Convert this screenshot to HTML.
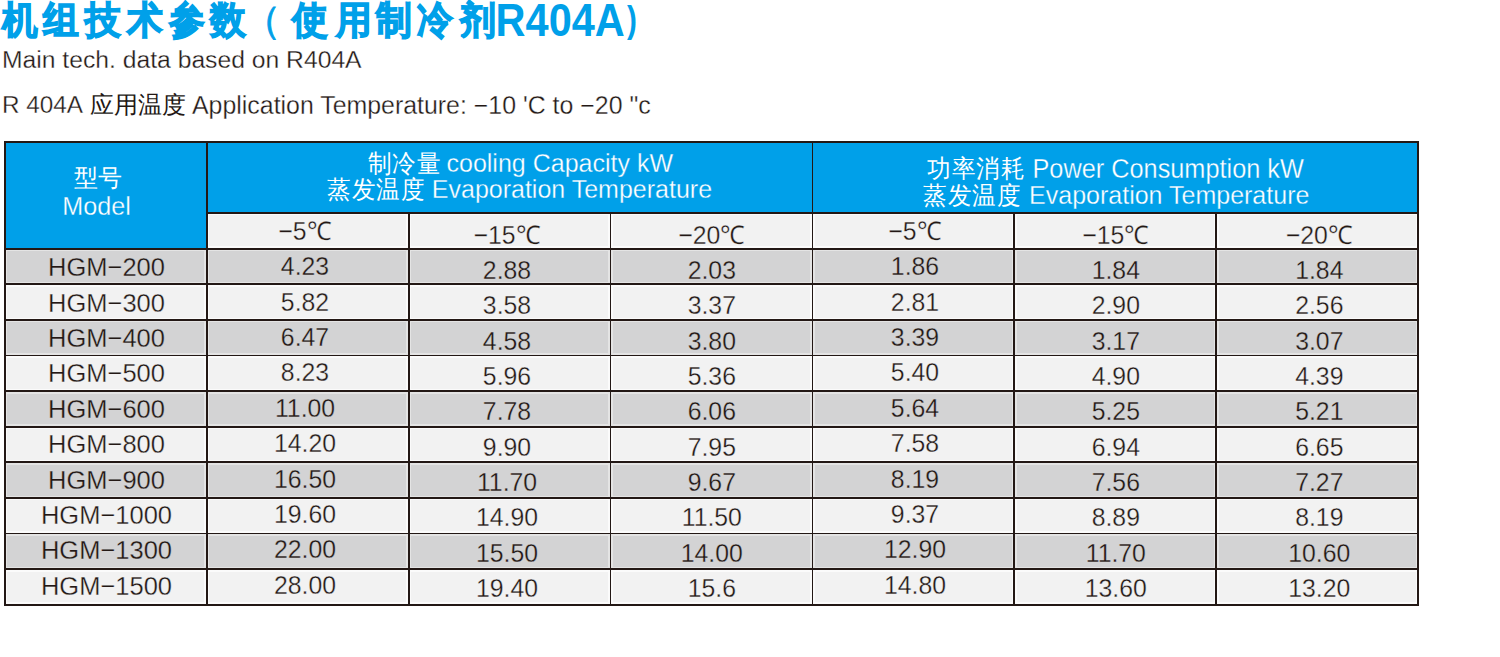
<!DOCTYPE html><html><head><meta charset="utf-8"><style>
html,body{margin:0;padding:0;background:#fff;width:1500px;height:657px;overflow:hidden;position:relative}
*{box-sizing:border-box}
.a{position:absolute}
.t{position:absolute;font-family:"Liberation Sans",sans-serif;color:#231815;white-space:nowrap;line-height:1}
.c{text-align:center}
.w{color:#fff}
</style></head><body>

<div class="a" style="left:5.00px;top:142.00px;width:1413.02px;height:71.00px;background:#00a0e9"></div>
<div class="a" style="left:5.00px;top:142.00px;width:201.86px;height:106.80px;background:#00a0e9"></div>
<div class="a" style="left:207.76px;top:213.90px;width:200.06px;height:34.00px;background:#fbfbfb"></div>
<div class="a" style="left:209.26px;top:215.40px;width:197.06px;height:31.00px;background:#f2f2f2"></div>
<div class="a" style="left:409.62px;top:213.90px;width:200.06px;height:34.00px;background:#fbfbfb"></div>
<div class="a" style="left:411.12px;top:215.40px;width:197.06px;height:31.00px;background:#f2f2f2"></div>
<div class="a" style="left:611.48px;top:213.90px;width:200.06px;height:34.00px;background:#fbfbfb"></div>
<div class="a" style="left:612.98px;top:215.40px;width:197.06px;height:31.00px;background:#f2f2f2"></div>
<div class="a" style="left:813.34px;top:213.90px;width:200.06px;height:34.00px;background:#fbfbfb"></div>
<div class="a" style="left:814.84px;top:215.40px;width:197.06px;height:31.00px;background:#f2f2f2"></div>
<div class="a" style="left:1015.20px;top:213.90px;width:200.06px;height:34.00px;background:#fbfbfb"></div>
<div class="a" style="left:1016.70px;top:215.40px;width:197.06px;height:31.00px;background:#f2f2f2"></div>
<div class="a" style="left:1217.06px;top:213.90px;width:200.06px;height:34.00px;background:#fbfbfb"></div>
<div class="a" style="left:1218.56px;top:215.40px;width:197.06px;height:31.00px;background:#f2f2f2"></div>
<div class="a" style="left:5.90px;top:249.70px;width:1411.22px;height:33.79px;background:#e4e4e4"></div>
<div class="a" style="left:7.40px;top:251.20px;width:197.06px;height:30.79px;background:#d3d3d4"></div>
<div class="a" style="left:209.26px;top:251.20px;width:197.06px;height:30.79px;background:#d3d3d4"></div>
<div class="a" style="left:411.12px;top:251.20px;width:197.06px;height:30.79px;background:#d3d3d4"></div>
<div class="a" style="left:612.98px;top:251.20px;width:197.06px;height:30.79px;background:#d3d3d4"></div>
<div class="a" style="left:814.84px;top:251.20px;width:197.06px;height:30.79px;background:#d3d3d4"></div>
<div class="a" style="left:1016.70px;top:251.20px;width:197.06px;height:30.79px;background:#d3d3d4"></div>
<div class="a" style="left:1218.56px;top:251.20px;width:197.06px;height:30.79px;background:#d3d3d4"></div>
<div class="a" style="left:5.90px;top:285.29px;width:1411.22px;height:33.79px;background:#fbfbfb"></div>
<div class="a" style="left:7.40px;top:286.79px;width:197.06px;height:30.79px;background:#f2f2f2"></div>
<div class="a" style="left:209.26px;top:286.79px;width:197.06px;height:30.79px;background:#f2f2f2"></div>
<div class="a" style="left:411.12px;top:286.79px;width:197.06px;height:30.79px;background:#f2f2f2"></div>
<div class="a" style="left:612.98px;top:286.79px;width:197.06px;height:30.79px;background:#f2f2f2"></div>
<div class="a" style="left:814.84px;top:286.79px;width:197.06px;height:30.79px;background:#f2f2f2"></div>
<div class="a" style="left:1016.70px;top:286.79px;width:197.06px;height:30.79px;background:#f2f2f2"></div>
<div class="a" style="left:1218.56px;top:286.79px;width:197.06px;height:30.79px;background:#f2f2f2"></div>
<div class="a" style="left:5.90px;top:320.88px;width:1411.22px;height:33.79px;background:#e4e4e4"></div>
<div class="a" style="left:7.40px;top:322.38px;width:197.06px;height:30.79px;background:#d3d3d4"></div>
<div class="a" style="left:209.26px;top:322.38px;width:197.06px;height:30.79px;background:#d3d3d4"></div>
<div class="a" style="left:411.12px;top:322.38px;width:197.06px;height:30.79px;background:#d3d3d4"></div>
<div class="a" style="left:612.98px;top:322.38px;width:197.06px;height:30.79px;background:#d3d3d4"></div>
<div class="a" style="left:814.84px;top:322.38px;width:197.06px;height:30.79px;background:#d3d3d4"></div>
<div class="a" style="left:1016.70px;top:322.38px;width:197.06px;height:30.79px;background:#d3d3d4"></div>
<div class="a" style="left:1218.56px;top:322.38px;width:197.06px;height:30.79px;background:#d3d3d4"></div>
<div class="a" style="left:5.90px;top:356.47px;width:1411.22px;height:33.79px;background:#fbfbfb"></div>
<div class="a" style="left:7.40px;top:357.97px;width:197.06px;height:30.79px;background:#f2f2f2"></div>
<div class="a" style="left:209.26px;top:357.97px;width:197.06px;height:30.79px;background:#f2f2f2"></div>
<div class="a" style="left:411.12px;top:357.97px;width:197.06px;height:30.79px;background:#f2f2f2"></div>
<div class="a" style="left:612.98px;top:357.97px;width:197.06px;height:30.79px;background:#f2f2f2"></div>
<div class="a" style="left:814.84px;top:357.97px;width:197.06px;height:30.79px;background:#f2f2f2"></div>
<div class="a" style="left:1016.70px;top:357.97px;width:197.06px;height:30.79px;background:#f2f2f2"></div>
<div class="a" style="left:1218.56px;top:357.97px;width:197.06px;height:30.79px;background:#f2f2f2"></div>
<div class="a" style="left:5.90px;top:392.06px;width:1411.22px;height:33.79px;background:#e4e4e4"></div>
<div class="a" style="left:7.40px;top:393.56px;width:197.06px;height:30.79px;background:#d3d3d4"></div>
<div class="a" style="left:209.26px;top:393.56px;width:197.06px;height:30.79px;background:#d3d3d4"></div>
<div class="a" style="left:411.12px;top:393.56px;width:197.06px;height:30.79px;background:#d3d3d4"></div>
<div class="a" style="left:612.98px;top:393.56px;width:197.06px;height:30.79px;background:#d3d3d4"></div>
<div class="a" style="left:814.84px;top:393.56px;width:197.06px;height:30.79px;background:#d3d3d4"></div>
<div class="a" style="left:1016.70px;top:393.56px;width:197.06px;height:30.79px;background:#d3d3d4"></div>
<div class="a" style="left:1218.56px;top:393.56px;width:197.06px;height:30.79px;background:#d3d3d4"></div>
<div class="a" style="left:5.90px;top:427.65px;width:1411.22px;height:33.79px;background:#fbfbfb"></div>
<div class="a" style="left:7.40px;top:429.15px;width:197.06px;height:30.79px;background:#f2f2f2"></div>
<div class="a" style="left:209.26px;top:429.15px;width:197.06px;height:30.79px;background:#f2f2f2"></div>
<div class="a" style="left:411.12px;top:429.15px;width:197.06px;height:30.79px;background:#f2f2f2"></div>
<div class="a" style="left:612.98px;top:429.15px;width:197.06px;height:30.79px;background:#f2f2f2"></div>
<div class="a" style="left:814.84px;top:429.15px;width:197.06px;height:30.79px;background:#f2f2f2"></div>
<div class="a" style="left:1016.70px;top:429.15px;width:197.06px;height:30.79px;background:#f2f2f2"></div>
<div class="a" style="left:1218.56px;top:429.15px;width:197.06px;height:30.79px;background:#f2f2f2"></div>
<div class="a" style="left:5.90px;top:463.24px;width:1411.22px;height:33.79px;background:#e4e4e4"></div>
<div class="a" style="left:7.40px;top:464.74px;width:197.06px;height:30.79px;background:#d3d3d4"></div>
<div class="a" style="left:209.26px;top:464.74px;width:197.06px;height:30.79px;background:#d3d3d4"></div>
<div class="a" style="left:411.12px;top:464.74px;width:197.06px;height:30.79px;background:#d3d3d4"></div>
<div class="a" style="left:612.98px;top:464.74px;width:197.06px;height:30.79px;background:#d3d3d4"></div>
<div class="a" style="left:814.84px;top:464.74px;width:197.06px;height:30.79px;background:#d3d3d4"></div>
<div class="a" style="left:1016.70px;top:464.74px;width:197.06px;height:30.79px;background:#d3d3d4"></div>
<div class="a" style="left:1218.56px;top:464.74px;width:197.06px;height:30.79px;background:#d3d3d4"></div>
<div class="a" style="left:5.90px;top:498.83px;width:1411.22px;height:33.79px;background:#fbfbfb"></div>
<div class="a" style="left:7.40px;top:500.33px;width:197.06px;height:30.79px;background:#f2f2f2"></div>
<div class="a" style="left:209.26px;top:500.33px;width:197.06px;height:30.79px;background:#f2f2f2"></div>
<div class="a" style="left:411.12px;top:500.33px;width:197.06px;height:30.79px;background:#f2f2f2"></div>
<div class="a" style="left:612.98px;top:500.33px;width:197.06px;height:30.79px;background:#f2f2f2"></div>
<div class="a" style="left:814.84px;top:500.33px;width:197.06px;height:30.79px;background:#f2f2f2"></div>
<div class="a" style="left:1016.70px;top:500.33px;width:197.06px;height:30.79px;background:#f2f2f2"></div>
<div class="a" style="left:1218.56px;top:500.33px;width:197.06px;height:30.79px;background:#f2f2f2"></div>
<div class="a" style="left:5.90px;top:534.42px;width:1411.22px;height:33.79px;background:#e4e4e4"></div>
<div class="a" style="left:7.40px;top:535.92px;width:197.06px;height:30.79px;background:#d3d3d4"></div>
<div class="a" style="left:209.26px;top:535.92px;width:197.06px;height:30.79px;background:#d3d3d4"></div>
<div class="a" style="left:411.12px;top:535.92px;width:197.06px;height:30.79px;background:#d3d3d4"></div>
<div class="a" style="left:612.98px;top:535.92px;width:197.06px;height:30.79px;background:#d3d3d4"></div>
<div class="a" style="left:814.84px;top:535.92px;width:197.06px;height:30.79px;background:#d3d3d4"></div>
<div class="a" style="left:1016.70px;top:535.92px;width:197.06px;height:30.79px;background:#d3d3d4"></div>
<div class="a" style="left:1218.56px;top:535.92px;width:197.06px;height:30.79px;background:#d3d3d4"></div>
<div class="a" style="left:5.90px;top:570.01px;width:1411.22px;height:33.79px;background:#fbfbfb"></div>
<div class="a" style="left:7.40px;top:571.51px;width:197.06px;height:30.79px;background:#f2f2f2"></div>
<div class="a" style="left:209.26px;top:571.51px;width:197.06px;height:30.79px;background:#f2f2f2"></div>
<div class="a" style="left:411.12px;top:571.51px;width:197.06px;height:30.79px;background:#f2f2f2"></div>
<div class="a" style="left:612.98px;top:571.51px;width:197.06px;height:30.79px;background:#f2f2f2"></div>
<div class="a" style="left:814.84px;top:571.51px;width:197.06px;height:30.79px;background:#f2f2f2"></div>
<div class="a" style="left:1016.70px;top:571.51px;width:197.06px;height:30.79px;background:#f2f2f2"></div>
<div class="a" style="left:1218.56px;top:571.51px;width:197.06px;height:30.79px;background:#f2f2f2"></div>
<div class="a" style="left:4.10px;top:141.10px;width:1414.82px;height:1.80px;background:#231815"></div>
<div class="a" style="left:205.96px;top:212.10px;width:1212.96px;height:1.80px;background:#231815"></div>
<div class="a" style="left:4.10px;top:247.90px;width:1414.82px;height:1.80px;background:#231815"></div>
<div class="a" style="left:4.10px;top:283.49px;width:1414.82px;height:1.80px;background:#231815"></div>
<div class="a" style="left:4.10px;top:319.08px;width:1414.82px;height:1.80px;background:#231815"></div>
<div class="a" style="left:4.10px;top:354.67px;width:1414.82px;height:1.80px;background:#231815"></div>
<div class="a" style="left:4.10px;top:390.26px;width:1414.82px;height:1.80px;background:#231815"></div>
<div class="a" style="left:4.10px;top:425.85px;width:1414.82px;height:1.80px;background:#231815"></div>
<div class="a" style="left:4.10px;top:461.44px;width:1414.82px;height:1.80px;background:#231815"></div>
<div class="a" style="left:4.10px;top:497.03px;width:1414.82px;height:1.80px;background:#231815"></div>
<div class="a" style="left:4.10px;top:532.62px;width:1414.82px;height:1.80px;background:#231815"></div>
<div class="a" style="left:4.10px;top:568.21px;width:1414.82px;height:1.80px;background:#231815"></div>
<div class="a" style="left:4.10px;top:603.80px;width:1414.82px;height:1.80px;background:#231815"></div>
<div class="a" style="left:4.10px;top:141.10px;width:1.80px;height:464.50px;background:#231815"></div>
<div class="a" style="left:205.96px;top:141.10px;width:1.80px;height:464.50px;background:#231815"></div>
<div class="a" style="left:811.54px;top:141.10px;width:1.80px;height:464.50px;background:#231815"></div>
<div class="a" style="left:1417.12px;top:141.10px;width:1.80px;height:464.50px;background:#231815"></div>
<div class="a" style="left:407.82px;top:212.10px;width:1.80px;height:393.50px;background:#231815"></div>
<div class="a" style="left:609.68px;top:212.10px;width:1.80px;height:393.50px;background:#231815"></div>
<div class="a" style="left:1013.40px;top:212.10px;width:1.80px;height:393.50px;background:#231815"></div>
<div class="a" style="left:1215.26px;top:212.10px;width:1.80px;height:393.50px;background:#231815"></div>
<div class="t" style="left:2.0px;top:0.8px;font-size:38.0px;font-weight:bold;color:#00a0e9;-webkit-text-stroke:1.40px #00a0e9;transform:scaleX(0.940);transform-origin:0 0">机</div>
<div class="t" style="left:43.4px;top:0.8px;font-size:38.0px;font-weight:bold;color:#00a0e9;-webkit-text-stroke:1.40px #00a0e9;transform:scaleX(0.940);transform-origin:0 0">组</div>
<div class="t" style="left:84.7px;top:0.8px;font-size:38.0px;font-weight:bold;color:#00a0e9;-webkit-text-stroke:1.40px #00a0e9;transform:scaleX(0.940);transform-origin:0 0">技</div>
<div class="t" style="left:127.4px;top:0.8px;font-size:38.0px;font-weight:bold;color:#00a0e9;-webkit-text-stroke:1.40px #00a0e9;transform:scaleX(0.940);transform-origin:0 0">术</div>
<div class="t" style="left:168.7px;top:0.8px;font-size:38.0px;font-weight:bold;color:#00a0e9;-webkit-text-stroke:1.40px #00a0e9;transform:scaleX(0.940);transform-origin:0 0">参</div>
<div class="t" style="left:209.7px;top:0.8px;font-size:38.0px;font-weight:bold;color:#00a0e9;-webkit-text-stroke:1.40px #00a0e9;transform:scaleX(0.940);transform-origin:0 0">数</div>
<div class="t" style="left:292.4px;top:0.8px;font-size:38.0px;font-weight:bold;color:#00a0e9;-webkit-text-stroke:1.40px #00a0e9;transform:scaleX(0.940);transform-origin:0 0">使</div>
<div class="t" style="left:335.7px;top:0.8px;font-size:38.0px;font-weight:bold;color:#00a0e9;-webkit-text-stroke:1.40px #00a0e9;transform:scaleX(0.940);transform-origin:0 0">用</div>
<div class="t" style="left:375.7px;top:0.8px;font-size:38.0px;font-weight:bold;color:#00a0e9;-webkit-text-stroke:1.40px #00a0e9;transform:scaleX(0.940);transform-origin:0 0">制</div>
<div class="t" style="left:417.4px;top:0.8px;font-size:38.0px;font-weight:bold;color:#00a0e9;-webkit-text-stroke:1.40px #00a0e9;transform:scaleX(0.940);transform-origin:0 0">冷</div>
<div class="t" style="left:459.7px;top:0.8px;font-size:38.0px;font-weight:bold;color:#00a0e9;-webkit-text-stroke:1.40px #00a0e9;transform:scaleX(0.940);transform-origin:0 0">剂</div>
<div class="t" style="left:243.2px;top:0.8px;font-size:38.0px;color:#00a0e9;-webkit-text-stroke:0.8px #00a0e9">（</div>
<div class="t" style="left:495.6px;top:0.5px;font-size:41.5px;font-weight:bold;color:#00a0e9;transform:scaleY(1.13);transform-origin:0 85%">R404A</div>
<div class="t" style="left:627.0px;top:1.0px;font-size:37.0px;font-weight:bold;color:#00a0e9;transform:scaleX(0.8);transform-origin:0 0">)</div>
<div class="t" style="left:2.0px;top:47.7px;font-size:24.7px;-webkit-text-stroke:0.3px #fff">Main tech. data based on R404A</div>
<div class="t" style="left:2.0px;top:92.8px;font-size:24.3px;-webkit-text-stroke:0.3px #fff">R 404A</div>
<div class="t" style="left:89.7px;top:93.8px;font-size:23.5px;">应用温度</div>
<div class="t" style="left:192.0px;top:92.8px;font-size:24.9px;-webkit-text-stroke:0.3px #fff">Application Temperature: −10 'C to −20 "c</div>
<div class="t w" style="left:74.40px;top:167.00px;font-size:23.5px;transform:scaleY(1.0);transform-origin:0 0">型号</div>
<div class="t w" style="left:62.20px;top:192.51px;font-size:25.2px;transform:scaleY(1.060);transform-origin:0 0;-webkit-text-stroke:0.3px #00a0e9">Model</div>
<div class="t w" style="left:367.70px;top:150.74px;font-size:24.00px;transform:scaleY(1.060);transform-origin:0 0;letter-spacing:0.70px">制冷量</div>
<div class="t w" style="left:446.50px;top:150.24px;font-size:25.00px;transform:scaleY(1.060);transform-origin:0 0;-webkit-text-stroke:0.30px #00a0e9">cooling Capacity kW</div>
<div class="t w" style="left:327.00px;top:176.74px;font-size:24.00px;transform:scaleY(1.060);transform-origin:0 0;letter-spacing:0.70px">蒸发温度</div>
<div class="t w" style="left:431.80px;top:176.24px;font-size:25.00px;transform:scaleY(1.060);transform-origin:0 0;-webkit-text-stroke:0.30px #00a0e9">Evaporation Temperature</div>
<div class="t w" style="left:927.00px;top:156.35px;font-size:24.00px;transform:scaleY(1.060);transform-origin:0 0;letter-spacing:0.70px">功率消耗</div>
<div class="t w" style="left:1032.50px;top:155.70px;font-size:25.30px;transform:scaleY(1.060);transform-origin:0 0;-webkit-text-stroke:0.30px #00a0e9">Power Consumption kW</div>
<div class="t w" style="left:923.00px;top:182.74px;font-size:24.00px;transform:scaleY(1.060);transform-origin:0 0;letter-spacing:0.70px">蒸发温度</div>
<div class="t w" style="left:1029.10px;top:182.24px;font-size:25.00px;transform:scaleY(1.060);transform-origin:0 0;-webkit-text-stroke:0.30px #00a0e9">Evaporation Temperature</div>
<div class="t c" style="left:155.00px;top:218.87px;width:300px;font-size:24.80px;transform:scaleY(1.040);transform-origin:50% 0;-webkit-text-stroke:0.30px #f2f2f2">−5℃</div>
<div class="t c" style="left:357.00px;top:222.84px;width:300px;font-size:24.80px;transform:scaleY(1.040);transform-origin:50% 0;-webkit-text-stroke:0.30px #f2f2f2">−15℃</div>
<div class="t c" style="left:561.80px;top:222.84px;width:300px;font-size:24.80px;transform:scaleY(1.040);transform-origin:50% 0;-webkit-text-stroke:0.30px #f2f2f2">−20℃</div>
<div class="t c" style="left:765.00px;top:218.87px;width:300px;font-size:24.80px;transform:scaleY(1.040);transform-origin:50% 0;-webkit-text-stroke:0.30px #f2f2f2">−5℃</div>
<div class="t c" style="left:965.80px;top:222.84px;width:300px;font-size:24.80px;transform:scaleY(1.040);transform-origin:50% 0;-webkit-text-stroke:0.30px #f2f2f2">−15℃</div>
<div class="t c" style="left:1169.30px;top:222.84px;width:300px;font-size:24.80px;transform:scaleY(1.040);transform-origin:50% 0;-webkit-text-stroke:0.30px #f2f2f2">−20℃</div>
<div class="t c" style="left:-43.50px;top:254.17px;width:300px;font-size:25.50px;transform:scaleY(1.040);transform-origin:50% 0;-webkit-text-stroke:0.30px #d3d3d4">HGM−200</div>
<div class="t c" style="left:155.00px;top:254.26px;width:300px;font-size:24.80px;transform:scaleY(1.040);transform-origin:50% 0;-webkit-text-stroke:0.30px #d3d3d4">4.23</div>
<div class="t c" style="left:357.00px;top:258.16px;width:300px;font-size:24.80px;transform:scaleY(1.040);transform-origin:50% 0;-webkit-text-stroke:0.30px #d3d3d4">2.88</div>
<div class="t c" style="left:561.80px;top:258.16px;width:300px;font-size:24.80px;transform:scaleY(1.040);transform-origin:50% 0;-webkit-text-stroke:0.30px #d3d3d4">2.03</div>
<div class="t c" style="left:765.00px;top:254.26px;width:300px;font-size:24.80px;transform:scaleY(1.040);transform-origin:50% 0;-webkit-text-stroke:0.30px #d3d3d4">1.86</div>
<div class="t c" style="left:965.80px;top:258.16px;width:300px;font-size:24.80px;transform:scaleY(1.040);transform-origin:50% 0;-webkit-text-stroke:0.30px #d3d3d4">1.84</div>
<div class="t c" style="left:1169.30px;top:258.16px;width:300px;font-size:24.80px;transform:scaleY(1.040);transform-origin:50% 0;-webkit-text-stroke:0.30px #d3d3d4">1.84</div>
<div class="t c" style="left:-43.50px;top:289.56px;width:300px;font-size:25.50px;transform:scaleY(1.040);transform-origin:50% 0;-webkit-text-stroke:0.30px #f2f2f2">HGM−300</div>
<div class="t c" style="left:155.00px;top:289.65px;width:300px;font-size:24.80px;transform:scaleY(1.040);transform-origin:50% 0;-webkit-text-stroke:0.30px #f2f2f2">5.82</div>
<div class="t c" style="left:357.00px;top:293.48px;width:300px;font-size:24.80px;transform:scaleY(1.040);transform-origin:50% 0;-webkit-text-stroke:0.30px #f2f2f2">3.58</div>
<div class="t c" style="left:561.80px;top:293.48px;width:300px;font-size:24.80px;transform:scaleY(1.040);transform-origin:50% 0;-webkit-text-stroke:0.30px #f2f2f2">3.37</div>
<div class="t c" style="left:765.00px;top:289.65px;width:300px;font-size:24.80px;transform:scaleY(1.040);transform-origin:50% 0;-webkit-text-stroke:0.30px #f2f2f2">2.81</div>
<div class="t c" style="left:965.80px;top:293.48px;width:300px;font-size:24.80px;transform:scaleY(1.040);transform-origin:50% 0;-webkit-text-stroke:0.30px #f2f2f2">2.90</div>
<div class="t c" style="left:1169.30px;top:293.48px;width:300px;font-size:24.80px;transform:scaleY(1.040);transform-origin:50% 0;-webkit-text-stroke:0.30px #f2f2f2">2.56</div>
<div class="t c" style="left:-43.50px;top:324.95px;width:300px;font-size:25.50px;transform:scaleY(1.040);transform-origin:50% 0;-webkit-text-stroke:0.30px #d3d3d4">HGM−400</div>
<div class="t c" style="left:155.00px;top:325.04px;width:300px;font-size:24.80px;transform:scaleY(1.040);transform-origin:50% 0;-webkit-text-stroke:0.30px #d3d3d4">6.47</div>
<div class="t c" style="left:357.00px;top:328.80px;width:300px;font-size:24.80px;transform:scaleY(1.040);transform-origin:50% 0;-webkit-text-stroke:0.30px #d3d3d4">4.58</div>
<div class="t c" style="left:561.80px;top:328.80px;width:300px;font-size:24.80px;transform:scaleY(1.040);transform-origin:50% 0;-webkit-text-stroke:0.30px #d3d3d4">3.80</div>
<div class="t c" style="left:765.00px;top:325.04px;width:300px;font-size:24.80px;transform:scaleY(1.040);transform-origin:50% 0;-webkit-text-stroke:0.30px #d3d3d4">3.39</div>
<div class="t c" style="left:965.80px;top:328.80px;width:300px;font-size:24.80px;transform:scaleY(1.040);transform-origin:50% 0;-webkit-text-stroke:0.30px #d3d3d4">3.17</div>
<div class="t c" style="left:1169.30px;top:328.80px;width:300px;font-size:24.80px;transform:scaleY(1.040);transform-origin:50% 0;-webkit-text-stroke:0.30px #d3d3d4">3.07</div>
<div class="t c" style="left:-43.50px;top:360.34px;width:300px;font-size:25.50px;transform:scaleY(1.040);transform-origin:50% 0;-webkit-text-stroke:0.30px #f2f2f2">HGM−500</div>
<div class="t c" style="left:155.00px;top:360.43px;width:300px;font-size:24.80px;transform:scaleY(1.040);transform-origin:50% 0;-webkit-text-stroke:0.30px #f2f2f2">8.23</div>
<div class="t c" style="left:357.00px;top:364.12px;width:300px;font-size:24.80px;transform:scaleY(1.040);transform-origin:50% 0;-webkit-text-stroke:0.30px #f2f2f2">5.96</div>
<div class="t c" style="left:561.80px;top:364.12px;width:300px;font-size:24.80px;transform:scaleY(1.040);transform-origin:50% 0;-webkit-text-stroke:0.30px #f2f2f2">5.36</div>
<div class="t c" style="left:765.00px;top:360.43px;width:300px;font-size:24.80px;transform:scaleY(1.040);transform-origin:50% 0;-webkit-text-stroke:0.30px #f2f2f2">5.40</div>
<div class="t c" style="left:965.80px;top:364.12px;width:300px;font-size:24.80px;transform:scaleY(1.040);transform-origin:50% 0;-webkit-text-stroke:0.30px #f2f2f2">4.90</div>
<div class="t c" style="left:1169.30px;top:364.12px;width:300px;font-size:24.80px;transform:scaleY(1.040);transform-origin:50% 0;-webkit-text-stroke:0.30px #f2f2f2">4.39</div>
<div class="t c" style="left:-43.50px;top:395.73px;width:300px;font-size:25.50px;transform:scaleY(1.040);transform-origin:50% 0;-webkit-text-stroke:0.30px #d3d3d4">HGM−600</div>
<div class="t c" style="left:155.00px;top:395.82px;width:300px;font-size:24.80px;transform:scaleY(1.040);transform-origin:50% 0;-webkit-text-stroke:0.30px #d3d3d4">11.00</div>
<div class="t c" style="left:357.00px;top:399.44px;width:300px;font-size:24.80px;transform:scaleY(1.040);transform-origin:50% 0;-webkit-text-stroke:0.30px #d3d3d4">7.78</div>
<div class="t c" style="left:561.80px;top:399.44px;width:300px;font-size:24.80px;transform:scaleY(1.040);transform-origin:50% 0;-webkit-text-stroke:0.30px #d3d3d4">6.06</div>
<div class="t c" style="left:765.00px;top:395.82px;width:300px;font-size:24.80px;transform:scaleY(1.040);transform-origin:50% 0;-webkit-text-stroke:0.30px #d3d3d4">5.64</div>
<div class="t c" style="left:965.80px;top:399.44px;width:300px;font-size:24.80px;transform:scaleY(1.040);transform-origin:50% 0;-webkit-text-stroke:0.30px #d3d3d4">5.25</div>
<div class="t c" style="left:1169.30px;top:399.44px;width:300px;font-size:24.80px;transform:scaleY(1.040);transform-origin:50% 0;-webkit-text-stroke:0.30px #d3d3d4">5.21</div>
<div class="t c" style="left:-43.50px;top:431.12px;width:300px;font-size:25.50px;transform:scaleY(1.040);transform-origin:50% 0;-webkit-text-stroke:0.30px #f2f2f2">HGM−800</div>
<div class="t c" style="left:155.00px;top:431.21px;width:300px;font-size:24.80px;transform:scaleY(1.040);transform-origin:50% 0;-webkit-text-stroke:0.30px #f2f2f2">14.20</div>
<div class="t c" style="left:357.00px;top:434.76px;width:300px;font-size:24.80px;transform:scaleY(1.040);transform-origin:50% 0;-webkit-text-stroke:0.30px #f2f2f2">9.90</div>
<div class="t c" style="left:561.80px;top:434.76px;width:300px;font-size:24.80px;transform:scaleY(1.040);transform-origin:50% 0;-webkit-text-stroke:0.30px #f2f2f2">7.95</div>
<div class="t c" style="left:765.00px;top:431.21px;width:300px;font-size:24.80px;transform:scaleY(1.040);transform-origin:50% 0;-webkit-text-stroke:0.30px #f2f2f2">7.58</div>
<div class="t c" style="left:965.80px;top:434.76px;width:300px;font-size:24.80px;transform:scaleY(1.040);transform-origin:50% 0;-webkit-text-stroke:0.30px #f2f2f2">6.94</div>
<div class="t c" style="left:1169.30px;top:434.76px;width:300px;font-size:24.80px;transform:scaleY(1.040);transform-origin:50% 0;-webkit-text-stroke:0.30px #f2f2f2">6.65</div>
<div class="t c" style="left:-43.50px;top:466.51px;width:300px;font-size:25.50px;transform:scaleY(1.040);transform-origin:50% 0;-webkit-text-stroke:0.30px #d3d3d4">HGM−900</div>
<div class="t c" style="left:155.00px;top:466.60px;width:300px;font-size:24.80px;transform:scaleY(1.040);transform-origin:50% 0;-webkit-text-stroke:0.30px #d3d3d4">16.50</div>
<div class="t c" style="left:357.00px;top:470.08px;width:300px;font-size:24.80px;transform:scaleY(1.040);transform-origin:50% 0;-webkit-text-stroke:0.30px #d3d3d4">11.70</div>
<div class="t c" style="left:561.80px;top:470.08px;width:300px;font-size:24.80px;transform:scaleY(1.040);transform-origin:50% 0;-webkit-text-stroke:0.30px #d3d3d4">9.67</div>
<div class="t c" style="left:765.00px;top:466.60px;width:300px;font-size:24.80px;transform:scaleY(1.040);transform-origin:50% 0;-webkit-text-stroke:0.30px #d3d3d4">8.19</div>
<div class="t c" style="left:965.80px;top:470.08px;width:300px;font-size:24.80px;transform:scaleY(1.040);transform-origin:50% 0;-webkit-text-stroke:0.30px #d3d3d4">7.56</div>
<div class="t c" style="left:1169.30px;top:470.08px;width:300px;font-size:24.80px;transform:scaleY(1.040);transform-origin:50% 0;-webkit-text-stroke:0.30px #d3d3d4">7.27</div>
<div class="t c" style="left:-43.50px;top:501.90px;width:300px;font-size:25.50px;transform:scaleY(1.040);transform-origin:50% 0;-webkit-text-stroke:0.30px #f2f2f2">HGM−1000</div>
<div class="t c" style="left:155.00px;top:501.99px;width:300px;font-size:24.80px;transform:scaleY(1.040);transform-origin:50% 0;-webkit-text-stroke:0.30px #f2f2f2">19.60</div>
<div class="t c" style="left:357.00px;top:505.40px;width:300px;font-size:24.80px;transform:scaleY(1.040);transform-origin:50% 0;-webkit-text-stroke:0.30px #f2f2f2">14.90</div>
<div class="t c" style="left:561.80px;top:505.40px;width:300px;font-size:24.80px;transform:scaleY(1.040);transform-origin:50% 0;-webkit-text-stroke:0.30px #f2f2f2">11.50</div>
<div class="t c" style="left:765.00px;top:501.99px;width:300px;font-size:24.80px;transform:scaleY(1.040);transform-origin:50% 0;-webkit-text-stroke:0.30px #f2f2f2">9.37</div>
<div class="t c" style="left:965.80px;top:505.40px;width:300px;font-size:24.80px;transform:scaleY(1.040);transform-origin:50% 0;-webkit-text-stroke:0.30px #f2f2f2">8.89</div>
<div class="t c" style="left:1169.30px;top:505.40px;width:300px;font-size:24.80px;transform:scaleY(1.040);transform-origin:50% 0;-webkit-text-stroke:0.30px #f2f2f2">8.19</div>
<div class="t c" style="left:-43.50px;top:537.29px;width:300px;font-size:25.50px;transform:scaleY(1.040);transform-origin:50% 0;-webkit-text-stroke:0.30px #d3d3d4">HGM−1300</div>
<div class="t c" style="left:155.00px;top:537.38px;width:300px;font-size:24.80px;transform:scaleY(1.040);transform-origin:50% 0;-webkit-text-stroke:0.30px #d3d3d4">22.00</div>
<div class="t c" style="left:357.00px;top:540.72px;width:300px;font-size:24.80px;transform:scaleY(1.040);transform-origin:50% 0;-webkit-text-stroke:0.30px #d3d3d4">15.50</div>
<div class="t c" style="left:561.80px;top:540.72px;width:300px;font-size:24.80px;transform:scaleY(1.040);transform-origin:50% 0;-webkit-text-stroke:0.30px #d3d3d4">14.00</div>
<div class="t c" style="left:765.00px;top:537.38px;width:300px;font-size:24.80px;transform:scaleY(1.040);transform-origin:50% 0;-webkit-text-stroke:0.30px #d3d3d4">12.90</div>
<div class="t c" style="left:965.80px;top:540.72px;width:300px;font-size:24.80px;transform:scaleY(1.040);transform-origin:50% 0;-webkit-text-stroke:0.30px #d3d3d4">11.70</div>
<div class="t c" style="left:1169.30px;top:540.72px;width:300px;font-size:24.80px;transform:scaleY(1.040);transform-origin:50% 0;-webkit-text-stroke:0.30px #d3d3d4">10.60</div>
<div class="t c" style="left:-43.50px;top:572.68px;width:300px;font-size:25.50px;transform:scaleY(1.040);transform-origin:50% 0;-webkit-text-stroke:0.30px #f2f2f2">HGM−1500</div>
<div class="t c" style="left:155.00px;top:572.77px;width:300px;font-size:24.80px;transform:scaleY(1.040);transform-origin:50% 0;-webkit-text-stroke:0.30px #f2f2f2">28.00</div>
<div class="t c" style="left:357.00px;top:576.04px;width:300px;font-size:24.80px;transform:scaleY(1.040);transform-origin:50% 0;-webkit-text-stroke:0.30px #f2f2f2">19.40</div>
<div class="t c" style="left:561.80px;top:576.04px;width:300px;font-size:24.80px;transform:scaleY(1.040);transform-origin:50% 0;-webkit-text-stroke:0.30px #f2f2f2">15.6</div>
<div class="t c" style="left:765.00px;top:572.77px;width:300px;font-size:24.80px;transform:scaleY(1.040);transform-origin:50% 0;-webkit-text-stroke:0.30px #f2f2f2">14.80</div>
<div class="t c" style="left:965.80px;top:576.04px;width:300px;font-size:24.80px;transform:scaleY(1.040);transform-origin:50% 0;-webkit-text-stroke:0.30px #f2f2f2">13.60</div>
<div class="t c" style="left:1169.30px;top:576.04px;width:300px;font-size:24.80px;transform:scaleY(1.040);transform-origin:50% 0;-webkit-text-stroke:0.30px #f2f2f2">13.20</div>
</body></html>
